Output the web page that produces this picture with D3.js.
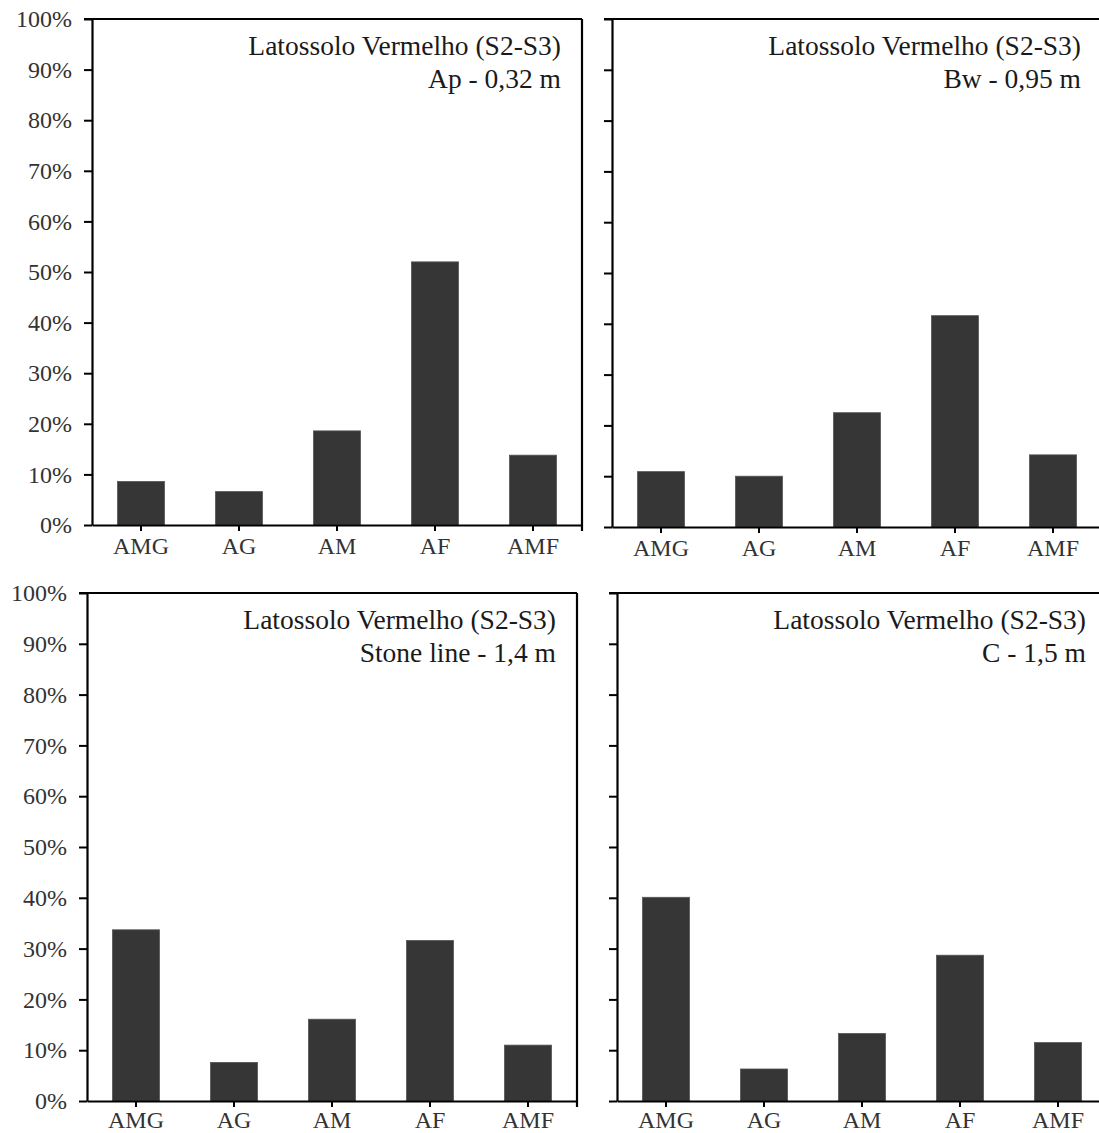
<!DOCTYPE html>
<html>
<head>
<meta charset="utf-8">
<script src="https://cdn.jsdelivr.net/npm/d3@7"></script>
<style>
  html, body { margin: 0; padding: 0; background: #fff; }
  svg { display: block; }
  text { font-family: "Liberation Serif", "Times New Roman", serif; }
</style>
</head>
<body>
<svg id="chart" width="1099" height="1133"></svg>
<script>
// Particle-size fractions (sand classes) for each horizon
const categories = ["AMG", "AG", "AM", "AF", "AMF"];
const yTicks = [0, 0.1, 0.2, 0.3, 0.4, 0.5, 0.6, 0.7, 0.8, 0.9, 1.0];

const titleLine1 = "Latossolo Vermelho (S2-S3)";
const horizonLabels = ["Ap - 0,32 m", "Bw - 0,95 m", "Stone line - 1,4 m", "C - 1,5 m"];

const apValues    = [0.086, 0.066, 0.186, 0.520, 0.138];
const bwValues    = [0.109, 0.100, 0.225, 0.416, 0.142];
const stoneValues = [0.337, 0.076, 0.161, 0.316, 0.110];
const cValues     = [0.401, 0.063, 0.133, 0.287, 0.115];

// Panel frames (plot area bounds), y labels on/off, x label gap
const panels = [
  { values: apValues,    label: horizonLabels[0], left: 92,  right: 582,  top: 19,  bottom: 525,  yLabels: true,  xPad: 6 },
  { values: bwValues,    label: horizonLabels[1], left: 612, right: 1102, top: 19,  bottom: 527,  yLabels: false, xPad: 6 },
  { values: stoneValues, label: horizonLabels[2], left: 87,  right: 577,  top: 593, bottom: 1101, yLabels: true,  xPad: 4 },
  { values: cValues,     label: horizonLabels[3], left: 617, right: 1107, top: 593, bottom: 1101, yLabels: false, xPad: 4 }
];

const svg = d3.select("#chart");
const fmt = d3.format(".0%");
const serif = "'Liberation Serif', 'Times New Roman', serif";

panels.forEach(p => {
  const g = svg.append("g");

  const x = d3.scaleBand()
    .domain(categories)
    .range([p.left, p.right])
    .paddingInner(0.52)
    .paddingOuter(0.26);

  const y = d3.scaleLinear()
    .domain([0, 1])
    .range([p.bottom, p.top]);

  // bars
  g.selectAll("rect.bar")
    .data(p.values)
    .join("rect")
    .attr("class", "bar")
    .attr("x", (d, i) => x(categories[i]))
    .attr("width", x.bandwidth())
    .attr("y", d => y(d))
    .attr("height", d => y(0) - y(d))
    .attr("fill", "#363636")
    .attr("stroke", "#555")
    .attr("stroke-width", 0.8);

  // y axis with outward ticks
  const yAxis = d3.axisLeft(y)
    .tickValues(yTicks)
    .tickSize(8)
    .tickSizeOuter(0)
    .tickPadding(12)
    .tickFormat(p.yLabels ? fmt : () => "");
  const ya = g.append("g")
    .attr("transform", `translate(${p.left},0)`)
    .call(yAxis);
  ya.select(".domain").attr("stroke", "#000").attr("stroke-width", 2.2);
  ya.selectAll(".tick line").attr("stroke", "#000").attr("stroke-width", 2);
  ya.selectAll(".tick text")
    .attr("fill", "#333")
    .style("font-size", "24px")
    .style("font-family", serif);

  // x axis with ticks at category centres
  const xAxis = d3.axisBottom(x)
    .tickSize(6)
    .tickSizeOuter(0)
    .tickPadding(p.xPad);
  const xa = g.append("g")
    .attr("transform", `translate(0,${p.bottom})`)
    .call(xAxis);
  xa.select(".domain").attr("stroke", "#000").attr("stroke-width", 2.2);
  xa.selectAll(".tick line").attr("stroke", "#000").attr("stroke-width", 2);
  xa.selectAll(".tick text")
    .attr("fill", "#333")
    .style("font-size", "24px")
    .style("font-family", serif);

  // frame: top edge and right edge (right edge runs slightly below the axis)
  g.append("line")
    .attr("x1", p.left - 8).attr("x2", p.right)
    .attr("y1", y(1)).attr("y2", y(1))
    .attr("stroke", "#000").attr("stroke-width", 2.2);
  g.append("line")
    .attr("x1", p.right).attr("x2", p.right)
    .attr("y1", y(1)).attr("y2", y(0) + 6)
    .attr("stroke", "#000").attr("stroke-width", 2.2);

  // panel title, right aligned
  const tx = p.right - 21;
  g.append("text")
    .attr("x", tx).attr("y", p.top + 36)
    .attr("text-anchor", "end")
    .attr("fill", "#1a1a1a")
    .style("font-size", "27.5px")
    .text(titleLine1);
  g.append("text")
    .attr("x", tx).attr("y", p.top + 69)
    .attr("text-anchor", "end")
    .attr("fill", "#1a1a1a")
    .style("font-size", "27.5px")
    .text(p.label);
});
</script>
</body>
</html>
